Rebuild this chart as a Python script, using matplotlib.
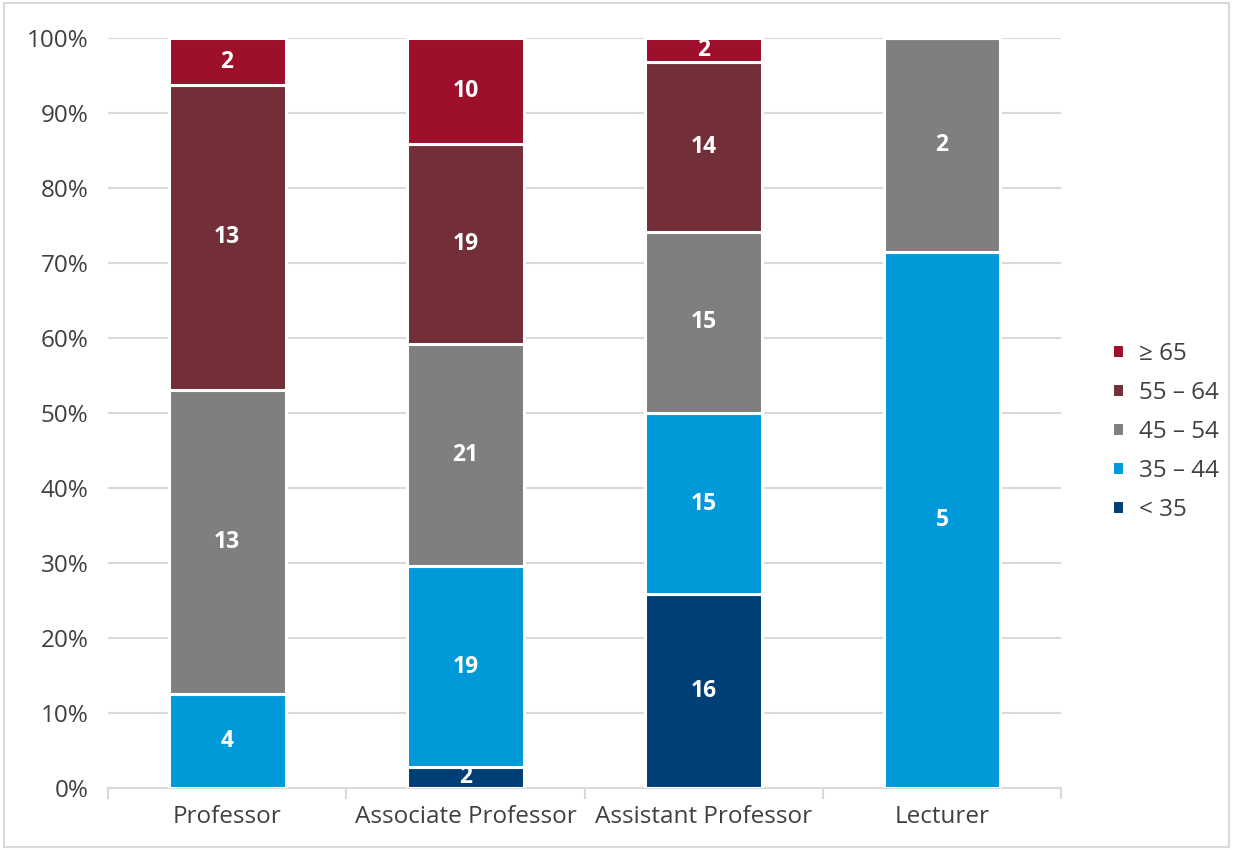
import matplotlib
matplotlib.use('Agg')
import matplotlib.pyplot as plt
import numpy as np

categories = ["Professor", "Associate Professor", "Assistant Professor", "Lecturer"]
groups = ["< 35", "35 \u2013 44", "45 \u2013 54", "55 \u2013 64", "\u2265 65"]
under35 = [0, 2, 16, 0]
age35_44 = [4, 19, 15, 5]
age45_54 = [13, 21, 15, 2]
age55_64 = [13, 19, 14, 0]
over65 = [2, 10, 2, 0]
colors = ["#003F75", "#009ADA", "#7F7F7F", "#722F37", "#9D0F2A"]

plt.rcParams['font.family'] = ['Open Sans', 'DejaVu Sans']

counts = np.array([under35, age35_44, age45_54, age55_64, over65], dtype=float)
totals = counts.sum(axis=0)
shares = counts / totals * 100

fig = plt.figure(figsize=(12.33, 8.5), dpi=100)
ax = fig.add_axes([0.0876, 0.073, 0.773, 0.882])

x = np.arange(len(categories))
bottom = np.zeros(len(categories))
handles = []
for i, g in enumerate(groups):
    b = ax.bar(x, shares[i], 0.49, bottom=bottom, color=colors[i],
               edgecolor='white', linewidth=2.2, label=g, zorder=3)
    handles.append(b)
    for j in range(len(categories)):
        if counts[i, j] > 0:
            ax.text(x[j], bottom[j] + shares[i, j] / 2, f"{int(counts[i, j])}",
                    ha='center', va='center', color='white', fontsize=16.5,
                    fontweight='bold', zorder=4)
    bottom += shares[i]

ax.set_xlim(-0.5, len(categories) - 0.5)
ax.set_ylim(0, 100)
ax.set_yticks(np.arange(0, 101, 10))
ax.set_yticklabels([f"{v}%" for v in range(0, 101, 10)])
ax.yaxis.grid(True, color='#D9D9D9', linewidth=1.5, zorder=0)
ax.set_axisbelow(True)
ax.set_xticks(x)
ax.set_xticklabels(categories)
ax.set_xticks(np.arange(-0.5, len(categories)), minor=True)
ax.tick_params(axis='x', which='major', length=0, pad=12, labelsize=17.5, labelcolor='#404040')
ax.tick_params(axis='x', which='minor', length=8, width=1.5, color='#D9D9D9')
ax.tick_params(axis='y', length=0, pad=14, labelsize=17.5, labelcolor='#404040')
for s in ['top', 'right', 'left']:
    ax.spines[s].set_visible(False)
ax.spines['bottom'].set_color('#D9D9D9')
ax.spines['bottom'].set_linewidth(1.5)

leg = fig.legend(handles[::-1], groups[::-1], loc='center left',
                 bbox_to_anchor=(0.884, 0.492), frameon=False, fontsize=17.5,
                 handlelength=0.5, handleheight=0.5, labelspacing=0.62,
                 handletextpad=0.6)
for t in leg.get_texts():
    t.set_color('#404040')

fig.patches.append(plt.Rectangle((0.003, 0.003), 0.994, 0.994, transform=fig.transFigure,
                                 fill=False, edgecolor='#D9D9D9', linewidth=1.5))

fig.savefig("out.png", dpi=100)
